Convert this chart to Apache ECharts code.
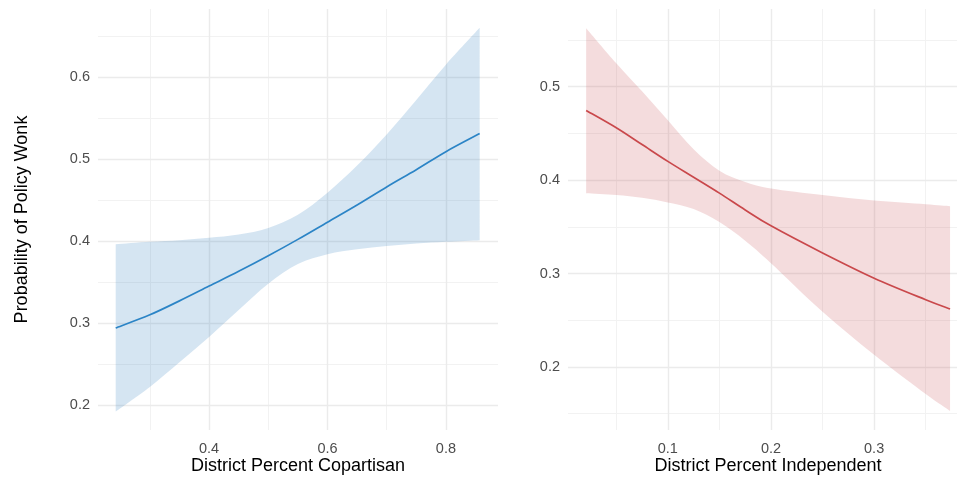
<!DOCTYPE html>
<html>
<head>
<meta charset="utf-8">
<script src="https://cdn.jsdelivr.net/npm/echarts@6/dist/echarts.min.js"></script>
<style>
  html, body { margin: 0; padding: 0; background: #ffffff; }
  #chart { width: 957px; height: 477px; }
</style>
</head>
<body>
<div id="chart"></div>
<script>
// Left panel: predicted probability vs. district percent copartisan
const copartisanX     = [0.2423, 0.30, 0.35, 0.40, 0.45, 0.50, 0.55, 0.60, 0.65, 0.70, 0.75, 0.80, 0.857];
const copartisanFit   = [0.294, 0.310, 0.327, 0.345, 0.363, 0.382, 0.402, 0.423, 0.444, 0.466, 0.487, 0.509, 0.531];
const copartisanUpper = [0.396, 0.399, 0.401, 0.404, 0.408, 0.416, 0.432, 0.459, 0.492, 0.530, 0.572, 0.615, 0.660];
const copartisanLower = [0.192, 0.222, 0.252, 0.283, 0.316, 0.348, 0.372, 0.384, 0.390, 0.394, 0.397, 0.399, 0.401];

// Right panel: predicted probability vs. district percent independent
const independentX     = [0.0208, 0.05, 0.075, 0.10, 0.125, 0.15, 0.175, 0.20, 0.25, 0.30, 0.35, 0.3736];
const independentFit   = [0.4745, 0.456, 0.438, 0.420, 0.403, 0.386, 0.368, 0.351, 0.322, 0.295, 0.272, 0.262];
const independentUpper = [0.5625, 0.525, 0.495, 0.464, 0.433, 0.410, 0.398, 0.391, 0.384, 0.378, 0.374, 0.372];
const independentLower = [0.386, 0.384, 0.381, 0.376, 0.369, 0.355, 0.335, 0.311, 0.259, 0.213, 0.171, 0.153];

// Tick positions
const leftXMajor  = [0.4, 0.6, 0.8];
const leftXMinor  = [0.3, 0.5, 0.7];
const leftYMajor  = [0.2, 0.3, 0.4, 0.5, 0.6];
const leftYMinor  = [0.25, 0.35, 0.45, 0.55, 0.65];
const rightXMajor = [0.1, 0.2, 0.3];
const rightXMinor = [0.05, 0.15, 0.25, 0.35];
const rightYMajor = [0.2, 0.3, 0.4, 0.5];
const rightYMinor = [0.15, 0.25, 0.35, 0.45, 0.55];

const FONT = 'Liberation Sans, Arial, sans-serif';
const MAJOR = { show: true, lineStyle: { color: '#ebebeb', width: 1.4 } };
const MINOR = { show: true, lineStyle: { color: '#f2f2f2', width: 1 } };

function axis(kind, grid, min, max, ticks, isMajor, extra) {
  return Object.assign({
    type: 'value', gridIndex: grid, min: min, max: max,
    axisLine: { show: false },
    axisTick: { show: false, customValues: ticks },
    axisLabel: isMajor
      ? { show: true, customValues: ticks, color: '#4d4d4d', fontSize: 14.5, fontFamily: FONT,
          margin: kind === 'x' ? 11 : 8 }
      : { show: false },
    splitLine: isMajor ? MAJOR : MINOR,
    nameMoveOverlap: false,
    z: isMajor ? 1 : 0
  }, extra || {});
}

// Catmull-Rom curve through screen points, written as cubic Bezier commands
function curveCommands(pts) {
  let d = '';
  for (let i = 0; i < pts.length - 1; i++) {
    const p0 = pts[Math.max(i - 1, 0)], p1 = pts[i], p2 = pts[i + 1], p3 = pts[Math.min(i + 2, pts.length - 1)];
    const c1 = [p1[0] + (p2[0] - p0[0]) / 6, p1[1] + (p2[1] - p0[1]) / 6];
    const c2 = [p2[0] - (p3[0] - p1[0]) / 6, p2[1] - (p3[1] - p1[1]) / 6];
    d += ' C' + c1[0] + ',' + c1[1] + ' ' + c2[0] + ',' + c2[1] + ' ' + p2[0] + ',' + p2[1];
  }
  return d;
}

// Confidence band as a single filled region between the lower and upper bounds
function bandSeries(gridIdx, xs, lo, hi, color) {
  return {
    type: 'custom', xAxisIndex: gridIdx, yAxisIndex: gridIdx, data: [0], silent: true, z: 2,
    renderItem: function (params, api) {
      const top = xs.map((x, i) => api.coord([x, hi[i]]));
      const bottom = xs.map((x, i) => api.coord([x, lo[i]])).reverse();
      const d = 'M' + top[0][0] + ',' + top[0][1] + curveCommands(top) +
                ' L' + bottom[0][0] + ',' + bottom[0][1] + curveCommands(bottom) + ' Z';
      return { type: 'path', shape: { pathData: d }, style: { fill: color, stroke: null } };
    }
  };
}

// Fitted probability curve
function fitSeries(gridIdx, xs, ys, color) {
  return {
    type: 'custom', xAxisIndex: gridIdx, yAxisIndex: gridIdx, data: [0], silent: true, z: 3,
    renderItem: function (params, api) {
      const pts = xs.map((x, i) => api.coord([x, ys[i]]));
      const d = 'M' + pts[0][0] + ',' + pts[0][1] + curveCommands(pts);
      return { type: 'path', shape: { pathData: d },
               style: { fill: null, stroke: color, lineWidth: 1.7, lineJoin: 'round' } };
    }
  };
}

const nameStyle = { color: '#000000', fontSize: 18, fontFamily: FONT };

const option = {
  animation: false,
  backgroundColor: '#ffffff',
  grid: [
    { left: 98, right: 459, top: 9, bottom: 47, outerBoundsMode: 'none' },
    { left: 568, right: -11, top: 9, bottom: 47, outerBoundsMode: 'none' }
  ],
  xAxis: [
    axis('x', 0, 0.2124, 0.888, leftXMajor, true,
      { name: 'District Percent Copartisan', nameLocation: 'middle', nameGap: 27, nameTextStyle: nameStyle }),
    axis('x', 1, 0.0032, 0.391, rightXMajor, true,
      { name: 'District Percent Independent', nameLocation: 'middle', nameGap: 27, nameTextStyle: nameStyle }),
    axis('x', 0, 0.2124, 0.888, leftXMinor, false),
    axis('x', 1, 0.0032, 0.391, rightXMinor, false)
  ],
  yAxis: [
    axis('y', 0, 0.1695, 0.683, leftYMajor, true,
      { name: 'Probability of Policy Wonk', nameLocation: 'middle', nameGap: 67, nameRotate: 90, nameTextStyle: nameStyle }),
    axis('y', 1, 0.1326, 0.583, rightYMajor, true),
    axis('y', 0, 0.1695, 0.683, leftYMinor, false),
    axis('y', 1, 0.1326, 0.583, rightYMinor, false)
  ],
  series: [
    bandSeries(0, copartisanX, copartisanLower, copartisanUpper, 'rgba(46,125,190,0.2)'),
    fitSeries(0, copartisanX, copartisanFit, '#2b84c6'),
    bandSeries(1, independentX, independentLower, independentUpper, 'rgba(200,80,85,0.2)'),
    fitSeries(1, independentX, independentFit, '#c9484b')
  ]
};

const chart = echarts.init(document.getElementById('chart'), null, { renderer: 'canvas' });
chart.setOption(option);
</script>
</body>
</html>
